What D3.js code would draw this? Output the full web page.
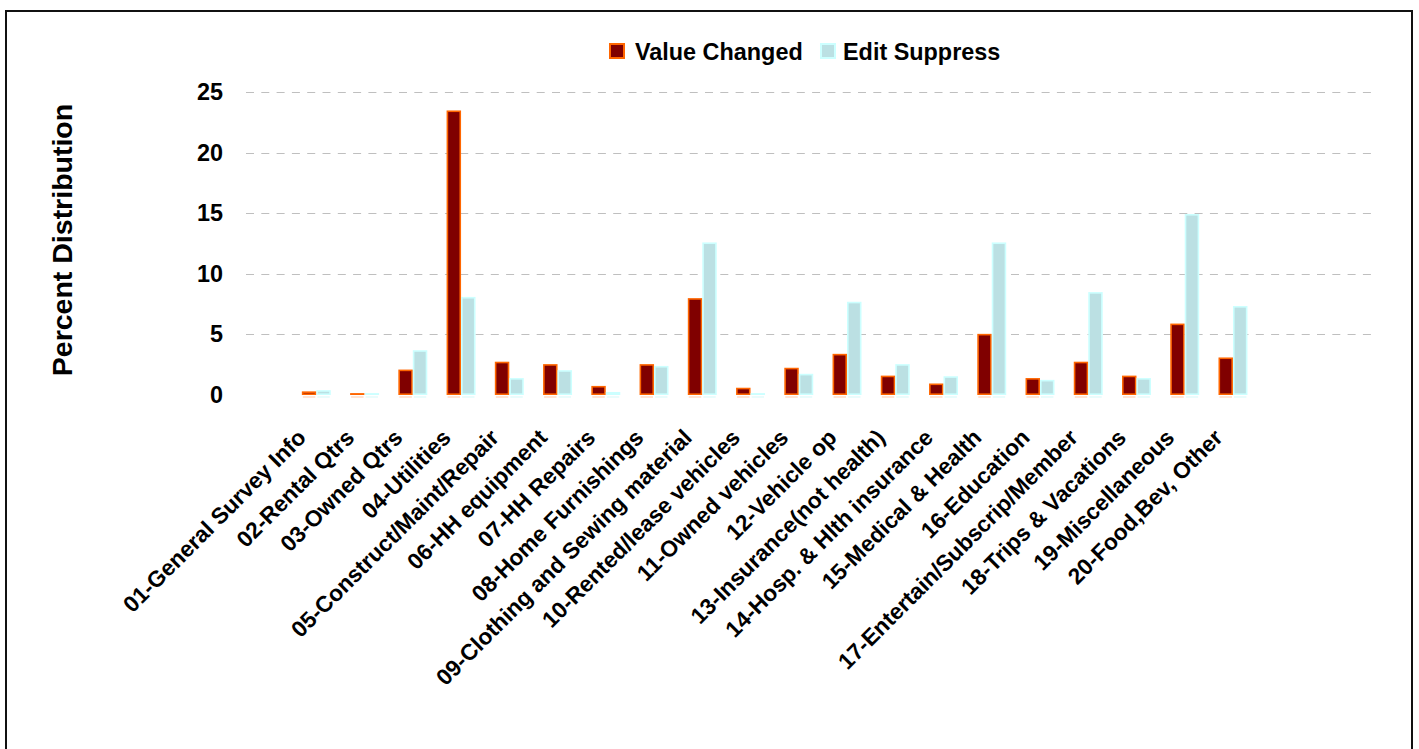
<!DOCTYPE html>
<html>
<head>
<meta charset="utf-8">
<script src="https://cdn.jsdelivr.net/npm/d3@7"></script>
<style>
  html, body { margin: 0; padding: 0; background: #fff; }
  svg { display: block; font-family: "Liberation Sans", Arial, sans-serif; font-weight: bold; }
</style>
</head>
<body>
<svg id="chart" width="1419" height="749"></svg>
<script>
// Expenditure sections
const categories = [
  "01-General Survey Info", "02-Rental Qtrs", "03-Owned Qtrs", "04-Utilities",
  "05-Construct/Maint/Repair", "06-HH equipment", "07-HH Repairs", "08-Home Furnishings",
  "09-Clothing and Sewing material", "10-Rented/lease vehicles", "11-Owned vehicles",
  "12-Vehicle op", "13-Insurance(not health)", "14-Hosp. & Hlth insurance",
  "15-Medical & Health", "16-Education", "17-Entertain/Subscrip/Member",
  "18-Trips & Vacations", "19-Miscellaneous", "20-Food,Bev, Other"
];
const seriesNames = ["Value Changed", "Edit Suppress"];
const valueChanged = [0.3, 0.15, 2.1, 23.5, 2.75, 2.55, 0.75, 2.55, 8.0, 0.6,
                      2.25, 3.4, 1.6, 0.95, 5.05, 1.4, 2.75, 1.6, 5.9, 3.1];
const editSuppress = [0.4, 0.1, 3.7, 8.1, 1.4, 2.05, 0.25, 2.4, 12.6, 0.1,
                      1.75, 7.7, 2.55, 1.55, 12.6, 1.25, 8.5, 1.4, 14.95, 7.35];
const yTicks = [0, 5, 10, 15, 20, 25];
const yTitle = "Percent Distribution";

const fills = ["#800000", "#BBE0E3"];
const strokes = ["#FF6600", "#CCFFFF"];
const shadows = ["#FFD2B8", "#DDFBFB"];
const textSize = 23.4;
const catSize = 22.7;

const svg = d3.select("#chart");

// outer frame
svg.append("rect")
  .attr("x", 6).attr("y", 11).attr("width", 1406).attr("height", 780)
  .attr("fill", "none").attr("stroke", "#111").attr("stroke-width", 2);

const y = d3.scaleLinear().domain([0, 25]).range([395, 92.3]);
const x0 = d3.scaleBand().domain(categories).range([292.2, 1257.1])
  .paddingInner(0.4).paddingOuter(0.2);
const x1 = d3.scaleBand().domain(seriesNames).range([0, x0.bandwidth()]);

// dashed gridlines
svg.append("g").selectAll("line")
  .data(yTicks.filter(d => d > 0))
  .join("line")
  .attr("x1", 246).attr("x2", 1374)
  .attr("y1", d => Math.round(y(d)) + 0.5).attr("y2", d => Math.round(y(d)) + 0.5)
  .attr("stroke", "#BFBFBF").attr("stroke-width", 1.2)
  .attr("stroke-dasharray", "8,7.3");

// y axis tick labels
const yAxis = d3.axisLeft(y).tickValues(yTicks).tickSize(0).tickPadding(0);
const gy = svg.append("g").attr("transform", "translate(223,0)").call(yAxis);
gy.select(".domain").remove();
gy.selectAll("text")
  .attr("font-size", textSize).attr("font-weight", "bold").attr("fill", "#000")
  .attr("font-family", '"Liberation Sans", Arial, sans-serif');

// y axis title
svg.append("text")
  .attr("transform", "translate(72,240) rotate(-90)")
  .attr("text-anchor", "middle")
  .attr("font-size", 28.5)
  .text(yTitle);

// bars
const rows = categories.map((c, i) => ({ cat: c, vals: [valueChanged[i], editSuppress[i]] }));
const sw = 1.6;
const groups = svg.append("g").selectAll("g")
  .data(rows).join("g")
  .attr("transform", d => `translate(${x0(d.cat)},0)`);

// faint footprint under each bar
groups.selectAll("line.foot")
  .data(d => d.vals.map((v, k) => ({ k, v })))
  .join("line").attr("class", "foot")
  .attr("x1", d => x1(seriesNames[d.k]) + 1)
  .attr("x2", d => x1(seriesNames[d.k]) + x1.bandwidth() - 1)
  .attr("y1", y(0) + 2).attr("y2", y(0) + 2)
  .attr("stroke", d => shadows[d.k]).attr("stroke-width", 1.2);

groups.selectAll("rect")
  .data(d => d.vals.map((v, k) => ({ k, v })))
  .join("rect")
  .attr("x", d => x1(seriesNames[d.k]) + sw / 2)
  .attr("width", x1.bandwidth() - sw)
  .attr("y", d => Math.min(y(d.v) + sw / 2, y(0) - sw / 2 - 0.3))
  .attr("height", d => Math.max(0.3, y(0) - y(d.v) - sw))
  .attr("fill", d => fills[d.k])
  .attr("stroke", d => strokes[d.k])
  .attr("stroke-width", sw);

// category labels
const xAxis = d3.axisBottom(x0).tickSize(0).tickPadding(0);
const gx = svg.append("g").call(xAxis);
gx.select(".domain").remove();
gx.selectAll(".tick").attr("transform", d => `translate(${x0(d) + x0.bandwidth() / 2},0)`);
gx.selectAll("text")
  .attr("y", null).attr("dy", null)
  .attr("transform", "translate(-9,439) rotate(-45)")
  .attr("text-anchor", "end")
  .attr("font-size", catSize).attr("font-weight", "bold").attr("fill", "#000")
  .attr("font-family", '"Liberation Sans", Arial, sans-serif');

// legend
const legendX = [609, 820];
const legend = svg.append("g").selectAll("g")
  .data(seriesNames).join("g")
  .attr("transform", (d, i) => `translate(${legendX[i]},43)`);
legend.append("rect")
  .attr("x", 1).attr("y", 1).attr("width", 14).attr("height", 14)
  .attr("fill", (d, i) => fills[i]).attr("stroke", (d, i) => strokes[i]).attr("stroke-width", 2);
legend.append("text")
  .attr("x", (d, i) => i === 0 ? 26 : 23).attr("y", 16.5)
  .attr("font-size", textSize)
  .text(d => d);
</script>
</body>
</html>
